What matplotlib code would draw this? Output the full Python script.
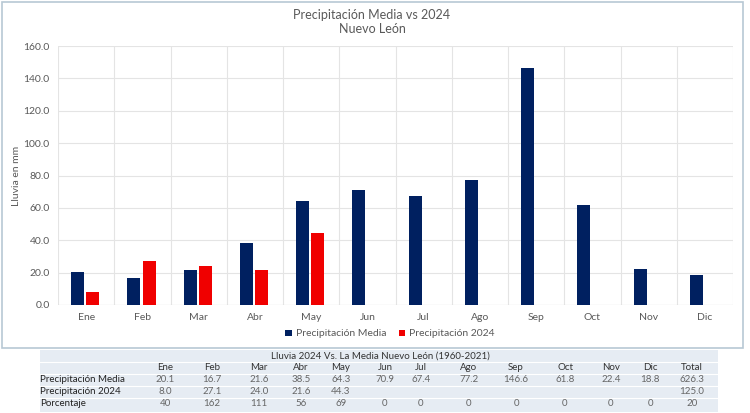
import matplotlib.pyplot as plt
import numpy as np
from matplotlib.patches import Rectangle

plt.rcParams['font.family'] = ['Lato', 'DejaVu Sans']

meses = ['Ene', 'Feb', 'Mar', 'Abr', 'May', 'Jun', 'Jul', 'Ago', 'Sep', 'Oct', 'Nov', 'Dic']
media = [20.1, 16.7, 21.6, 38.5, 64.3, 70.9, 67.4, 77.2, 146.6, 61.8, 22.4, 18.8]
lluvia_2024 = [8.0, 27.1, 24.0, 21.6, 44.3]
porcentaje = [40, 162, 111, 56, 69, 0, 0, 0, 0, 0, 0, 0]
total_media = 626.3
total_2024 = 125.0
total_pct = 20

navy = '#002060'
red = '#f00000'
gray = '#595959'

W, H = 750, 413
fig = plt.figure(figsize=(7.5, 4.13), dpi=100)

# chart panel border
fig.patches.append(Rectangle((2 / W, 1 - 348 / H), 741 / W, 346 / H, transform=fig.transFigure,
                             fill=False, edgecolor='#b8c8d4', linewidth=1.2))

ax = fig.add_axes([58 / W, 1 - 305 / H, 675 / W, 259 / H])
x = np.arange(len(meses))
ax.bar(x - 0.15, media, width=0.23, color=navy, label='Precipitación Media', zorder=3)
ax.bar(x[:len(lluvia_2024)] + 0.12, lluvia_2024, width=0.23, color=red,
       label='Precipitación 2024', zorder=3)

ax.set_xlim(-0.5, 11.5)
ax.set_ylim(0, 160)
ax.set_yticks(np.arange(0, 161, 20))
ax.set_yticklabels([f'{v:.1f}' for v in np.arange(0, 161, 20)])
ax.set_xticks(x)
ax.set_xticklabels(meses)
ax.set_xticks(np.arange(-0.5, 12, 1), minor=True)
ax.tick_params(axis='both', which='both', length=0, labelsize=7.5, labelcolor=gray, pad=6)
ax.grid(axis='y', color='#e4e4e4', linewidth=0.8, zorder=0)
ax.grid(axis='x', which='minor', color='#e4e4e4', linewidth=0.8, zorder=0)
for s in ax.spines.values():
    s.set_visible(False)
ax.axhline(0, color='#d0d0d0', linewidth=0.8, zorder=2)
ax.set_ylabel('Lluvia en mm', fontsize=7.5, color=gray, labelpad=2)

fig.text(372 / W, 1 - 15 / H, 'Precipitación Media vs 2024', ha='center', va='center',
         fontsize=9, color=gray)
fig.text(372 / W, 1 - 29 / H, 'Nuevo León', ha='center', va='center', fontsize=9, color=gray)

fig.legend(loc='center', bbox_to_anchor=(390 / W, 1 - 334 / H), ncol=2, frameon=False,
           fontsize=7.5, labelcolor=gray, handlelength=0.6, handleheight=0.6,
           handletextpad=0.4, columnspacing=1.2)

# table below the chart
fig.patches.append(Rectangle((40 / W, 1 - 412 / H), 678 / W, 62 / H, transform=fig.transFigure,
                             facecolor='#e6ecf3', edgecolor='none'))
col_x = [165, 212, 259, 301, 341, 385, 421, 469, 516, 565, 611, 650, 692]
rows_y = [368, 380, 392, 404]
for yy in [362, 374, 386, 398]:
    fig.lines.append(plt.Line2D([40 / W, 718 / W], [1 - yy / H, 1 - yy / H],
                                transform=fig.transFigure, color='white', linewidth=0.8))
fig.text(380 / W, 1 - 356 / H, 'Lluvia 2024 Vs. La Media Nuevo León (1960-2021)', ha='center',
         va='center', fontsize=7, color='#333333')
ts = dict(ha='center', va='center', fontsize=7, color='#333333')
for cx, lab in zip(col_x, meses + ['Total']):
    fig.text(cx / W, 1 - rows_y[0] / H, lab, **ts)
fig.text(40 / W, 1 - rows_y[1] / H, 'Precipitación Media', ha='left', va='center', fontsize=7, color='#222222')
fig.text(40 / W, 1 - rows_y[2] / H, 'Precipitación 2024', ha='left', va='center', fontsize=7, color='#222222')
fig.text(40 / W, 1 - rows_y[3] / H, 'Porcentaje', ha='left', va='center', fontsize=7, color='#222222')
vs = dict(ha='center', va='center', fontsize=7, color='#666666')
for i, v in enumerate(media):
    fig.text(col_x[i] / W, 1 - rows_y[1] / H, f'{v:.1f}', **vs)
for i, v in enumerate(lluvia_2024):
    fig.text(col_x[i] / W, 1 - rows_y[2] / H, f'{v:.1f}', **vs)
for i, v in enumerate(porcentaje):
    fig.text(col_x[i] / W, 1 - rows_y[3] / H, f'{v}', **vs)
fig.text(col_x[-1] / W, 1 - rows_y[1] / H, f'{total_media:.1f}', **vs)
fig.text(col_x[-1] / W, 1 - rows_y[2] / H, f'{total_2024:.1f}', **vs)
fig.text(col_x[-1] / W, 1 - rows_y[3] / H, f'{total_pct}', **vs)

fig.savefig('out.png', dpi=100)
